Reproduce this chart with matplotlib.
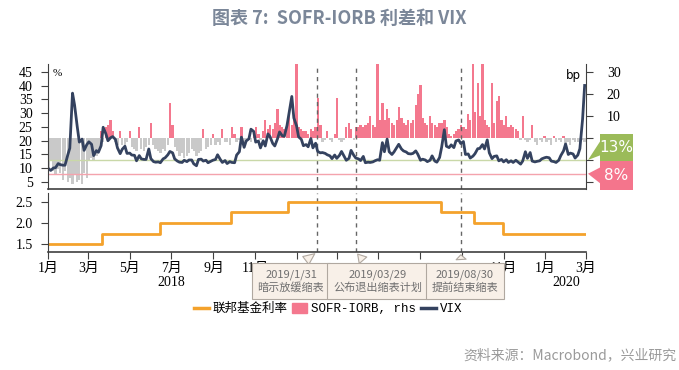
import numpy as np
import pandas as pd
import matplotlib
matplotlib.use('Agg')
import matplotlib.pyplot as plt
import matplotlib.transforms as mtransforms
from matplotlib.patches import Rectangle, Polygon, Patch
from matplotlib.lines import Line2D

CJK = 'Noto Sans CJK SC'
SERIF = ['Liberation Serif', CJK]
MONO = ['Liberation Mono', CJK]

# VIX, Tue/Fri readings, one row per month
vix_2018 = [
    [9.8, 9.2, 10.1, 10.2, 11.7, 11.3, 11.1, 11.1, 14.8],   # Jan
    [17.3, 37.3, 33.0, 25.0, 19.5, 20.6, 16.5, 18.6],        # Feb
    [19.6, 18.7, 14.6, 16.4, 15.8, 18.2, 24.9, 22.5, 20.0],  # Mar
    [21.1, 21.5, 20.5, 17.4, 15.3, 16.9, 18.0, 15.4],        # Apr
    [15.5, 14.8, 14.7, 12.7, 14.6, 13.4, 13.2, 13.2, 17.0],  # May
    [13.5, 12.4, 12.2, 12.3, 12.0, 13.4, 13.8, 14.9, 16.1],  # Jun
    [15.6, 13.4, 12.6, 12.2, 12.1, 12.9, 12.4, 13.0, 13.0],  # Jul
    [11.6, 10.9, 13.2, 13.3, 12.6, 12.9, 12.0, 12.5, 12.9],  # Aug
    [13.2, 14.9, 13.2, 12.1, 12.8, 11.7, 12.4, 12.1],        # Sep
    [12.0, 14.8, 16.0, 21.3, 17.6, 19.9, 20.7, 24.2, 23.4],  # Oct
    [19.5, 19.9, 17.4, 20.0, 18.1, 22.5, 21.5, 19.0, 18.1],  # Nov
    [20.7, 23.2, 21.8, 21.6, 25.6, 30.1, 36.1, 28.3],        # Dec
]
vix_2019 = [
    [25.4, 21.4, 20.5, 18.2, 18.6, 17.8, 20.8, 17.4, 19.1],
    [16.1, 15.6, 15.7, 15.4, 14.9, 14.5, 13.5, 14.8],
    [13.6, 14.7, 16.1, 14.3, 12.9, 13.6, 16.5, 14.7, 13.7],
    [13.4, 12.8, 14.3, 12.0, 12.2, 12.1, 12.3, 12.7, 13.1],
    [12.9, 19.3, 16.0, 20.6, 16.0, 15.0, 15.9, 17.5, 18.7],
    [17.0, 16.3, 15.9, 15.3, 15.2, 15.4, 16.3, 15.1],
    [12.9, 13.3, 13.0, 12.4, 12.9, 14.5, 12.6, 12.2, 13.9],
    [17.6, 24.0, 18.0, 17.5, 18.5, 17.5, 19.9, 20.3, 19.0],
    [19.7, 15.0, 15.2, 13.7, 14.4, 15.3, 17.1, 17.2],
    [18.6, 17.0, 20.3, 15.6, 13.5, 14.3, 14.5, 12.7, 13.2],
    [12.3, 13.1, 12.1, 12.7, 12.1, 12.9, 12.3, 11.5, 12.6],
    [16.0, 13.6, 15.7, 12.6, 12.3, 12.5, 12.7, 13.4, 13.8],
]
vix_2020 = [
    [14.0, 13.8, 12.6, 12.4, 12.1, 12.9, 14.6, 16.3, 18.8],
    [15.0, 15.5, 15.2, 13.7, 14.8, 17.1, 27.9, 40.1],
]

# SOFR - IORB spread (bp), same Tue/Fri grid
spread_2018 = [
    [-14, -10, -15, -17, -14, -16, -19, -15, -20],
    [-18, -21, -17, -20, -19, -21, -16, -18],
    [-10, -9, -10, -8, -6, 3, -2, 5, 6],
    [8, 3, -2, -3, 3, -3, -4, -2],
    [3, -4, -5, -6, 5, -5, -6, -4, -3],
    [7, -3, -5, -6, -7, -5, -6, -3, 16],
    [6, -4, -6, -8, -7, -9, -8, -7, -5],
    [-6, -8, -7, -6, 4, -5, -4, -3, 2],
    [-3, -2, -3, 4, -2, -2, -3, 5],
    [2, -2, -1, 5, -2, -2, -1, -2, 2],
    [5, 2, -1, 3, 8, 4, 6, 4, 7],
    [13, 6, 5, 4, 7, 12, 6, 9],
]
spread_2019 = [
    [60, 5, 4, 3, 3, 2, 4, 3, 5],
    [18, 6, -2, -1, 3, -1, -2, 2],
    [18, -1, -2, -1, 5, 7, 4, -1, 5],
    [5, 6, 5, 6, 7, 10, 6, 5, 40],
    [8, 16, 8, 13, 9, 7, 6, 8, 14],
    [9, 7, 6, 8, 7, 8, 15, 20],
    [24, 9, 7, 6, 10, 7, 6, 5, 7],
    [7, 8, 5, 2, 1, 2, 3, 4, 6],
    [5, 4, 11, 8, 300, 12, 25, 10],
    [55, 8, 6, 5, 25, 7, 17, 19, 8],
    [6, 10, 5, 6, 5, 4, 3, -1, 10],
    [-1, -2, -1, 6, -2, -3, -1, -2, 1],
]
spread_2020 = [
    [-2, -1, -3, 1, -2, -1, -2, 1, -3],
    [-2, -3, -1, -2, -2, -3, -1, -2],
]

# fed funds target (upper bound)
ffr_dates = ['2018-01-01', '2018-03-22', '2018-06-14', '2018-09-27', '2018-12-20',
             '2019-08-01', '2019-09-19', '2019-10-31', '2020-02-28']
ffr_vals = [1.50, 1.75, 2.00, 2.25, 2.50, 2.25, 2.00, 1.75, 1.75]

event_dates = ['2019-01-31', '2019-03-29', '2019-08-30']
event_labels = ['2019/1/31\n暗示放缓缩表', '2019/03/29\n公布退出缩表计划', '2019/08/30\n提前结束缩表']

W, H = 679, 370


def on_grid(rows):
    days = pd.date_range('2018-01-01', '2020-02-29', freq='D')
    grid = days[days.weekday.isin([1, 4])]
    months = pd.period_range('2018-01', '2020-02', freq='M')
    xs, ys = [], []
    for per, row in zip(months, rows):
        d = grid[(grid.year == per.year) & (grid.month == per.month)]
        n = min(len(d), len(row))
        xs.extend(d[:n])
        ys.extend(row[:n])
    return np.array(xs), np.array(ys, dtype=float)


def fpix(x, y):
    return x / W, 1 - y / H


vix_x, vix_y = on_grid(vix_2018 + vix_2019 + vix_2020)
sp_x, sp_y = on_grid(spread_2018 + spread_2019 + spread_2020)

fig = plt.figure(figsize=(W / 100, H / 100), dpi=100)
ax = fig.add_axes([48 / W, 1 - 189 / H, 538 / W, 125 / H])
axr = ax.twinx()
ax2 = fig.add_axes([48 / W, 1 - 252 / H, 538 / W, 59 / H])

x0, x1 = pd.Timestamp('2018-01-01'), pd.Timestamp('2020-03-01')

# spread bars on the right axis
pos = sp_y >= 0
axr.bar(sp_x[pos], sp_y[pos], width=3.4, color='#f4788e', linewidth=0)
axr.bar(sp_x[~pos], sp_y[~pos], width=3.4, color='#c9c9c9', linewidth=0)
axr.set_ylim(-23.2, 33.6)
axr.set_yticks([-20, -10, 0, 10, 20, 30])
# -20..0 sit behind the 13% / 8% tags
axr.set_yticklabels(['', '', '', '10', '20', '30'])
ax.set_zorder(axr.get_zorder() + 1)
ax.patch.set_visible(False)

ax.axhline(13, color='#c9d8a8', lw=1)
ax.axhline(8, color='#f4a3ad', lw=1)
ax.plot(vix_x, vix_y, color='#34425f', lw=2)
ax.set_ylim(2.45, 47.9)
ax.set_yticks(range(5, 50, 5))

ax2.step(pd.to_datetime(ffr_dates), ffr_vals, where='post', color='#f4a22c', lw=2)
ax2.set_ylim(1.31, 2.714)
ax2.set_yticks([1.5, 2.0, 2.5])
ax2.yaxis.set_major_formatter(matplotlib.ticker.FormatStrFormatter('%.1f'))

for a in (ax, axr, ax2):
    a.set_xlim(x0, x1)

for d in pd.to_datetime(event_dates):
    for a in (ax, ax2):
        a.axvline(d, color='#666666', lw=1, ls=(0, (3, 3)), zorder=1)

# spines / ticks
ax.spines['top'].set_visible(False)
axr.spines['top'].set_visible(False)
ax.spines['right'].set_visible(False)
axr.spines['left'].set_visible(False)
axr.spines['bottom'].set_visible(False)
ax.spines['bottom'].set_color('#404040')
ax.spines['bottom'].set_linewidth(1.2)
ax.spines['left'].set_color('#404040')
axr.spines['right'].set_color('#404040')
ax.tick_params(axis='x', bottom=False, labelbottom=False)
axr.tick_params(axis='x', bottom=False, labelbottom=False)
ax.tick_params(axis='y', length=5, pad=6, color='#404040')
axr.tick_params(axis='y', length=5, pad=10, color='#404040')

for s in ('top', 'right'):
    ax2.spines[s].set_visible(False)
ax2.spines['bottom'].set_color('#404040')
ax2.spines['bottom'].set_linewidth(1.2)
ax2.spines['left'].set_color('#404040')
ax2.tick_params(axis='y', length=5, pad=6, color='#404040')
ax2.tick_params(axis='x', length=5, pad=2, color='#404040')

month_ticks = pd.date_range('2018-01-01', '2020-03-01', freq='2MS')
ax2.set_xticks(month_ticks)
# the labels from 2019-01 to 2019-09 are hidden behind the event boxes
hidden = (month_ticks >= '2019-01-01') & (month_ticks <= '2019-09-01')
ax2.set_xticklabels(['' if h else f'{d.month}月' for d, h in zip(month_ticks, hidden)])

for a in (ax, axr, ax2):
    for lab in a.get_yticklabels() + a.get_xticklabels():
        lab.set_family(SERIF)
        lab.set_fontsize(10)

blend = mtransforms.blended_transform_factory(ax2.transData, ax2.transAxes)
ax2.text(pd.Timestamp('2018-07-01'), -0.52, '2018', transform=blend, ha='center', va='center',
         family=SERIF, fontsize=10)
ax2.text(pd.Timestamp('2020-02-01'), -0.52, '2020', transform=blend, ha='center', va='center',
         family=SERIF, fontsize=10)

ax.text(0.008, 0.96, '%', transform=ax.transAxes, fontsize=8, family=SERIF, va='top')
axr.text(0.99, 0.96, 'bp', transform=axr.transAxes, fontsize=8.5, va='top', ha='right')

# event boxes
box_cx = [291, 378, 465]
rel = [0.55, 0.42, 0.45]
for d, lab, cx, rx in zip(pd.to_datetime(event_dates), event_labels, box_cx, rel):
    ax2.annotate(lab, xy=(d, 0), xycoords=('data', 'axes fraction'),
                 xytext=(cx, H - 281), textcoords='figure pixels',
                 ha='center', va='center', fontsize=8, color='#707070', family=CJK,
                 linespacing=1.25, annotation_clip=False, zorder=10,
                 bbox=dict(boxstyle='square,pad=0.55', fc='#f8f0e8', ec='#b0a8a0', lw=0.8),
                 arrowprops=dict(arrowstyle='wedge,tail_width=0.9,shrink_factor=0.5',
                                 fc='#f8f0e8', ec='#b0a8a0', lw=0.8, relpos=(rx, 1.0)))

# level tags at the right
fig.canvas.draw()
for val, color, top, bot, lab in [(13, '#9bbb59', 134, 161, '13%'), (8, '#f4758c', 161, 190, '8%')]:
    tip_y = H - ax.transData.transform((0, val))[1]
    fig.patches.append(Rectangle(fpix(600, bot), 33 / W, (bot - top) / H, transform=fig.transFigure,
                                 fc=color, ec='none', zorder=5))
    fig.patches.append(Polygon([fpix(588, tip_y), fpix(601, top + 6), fpix(601, bot - 6)],
                               closed=True, transform=fig.transFigure, fc=color, ec='none', zorder=5))
    fig.text(616 / W, 1 - (top + bot) / 2 / H, lab, color='white', fontsize=11, ha='center',
             va='center', zorder=6)

fig.text(0.5, 1 - 18 / H, '图表 7:  SOFR-IORB 利差和 VIX', ha='center', va='center',
         fontsize=13, fontweight='bold', color='#7b8799', family=[CJK, 'DejaVu Sans'])

handles = [Line2D([], [], color='#f4a22c', lw=2.5),
           Patch(color='#f4788e'),
           Line2D([], [], color='#34425f', lw=2.5)]
fig.legend(handles, ['联邦基金利率', 'SOFR-IORB, rhs', 'VIX'], loc='center',
           bbox_to_anchor=(328 / W, 1 - 309 / H), ncol=3, frameon=False,
           prop={'family': MONO, 'size': 9}, handlelength=1.2, handleheight=0.9,
           handletextpad=0.3, columnspacing=0.4)

fig.text(676 / W, 1 - 355 / H, '资料来源：Macrobond，兴业研究', ha='right', va='center',
         fontsize=10, color='#9a9a9a', family=[CJK, 'DejaVu Sans'])

fig.savefig('out.png', dpi=100)
